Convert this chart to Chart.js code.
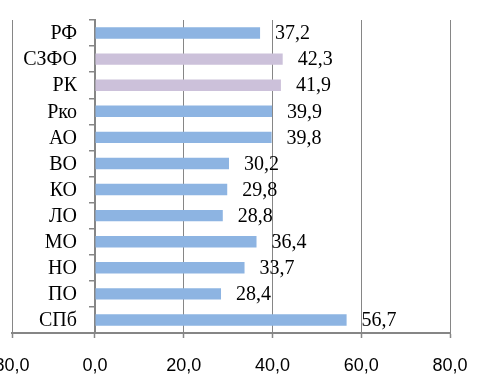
<!DOCTYPE html>
<html>
<head>
<meta charset="utf-8">
<script src="https://cdn.jsdelivr.net/npm/chart.js@4"></script>
<style>
  html, body { margin: 0; padding: 0; background: #fff; }
  canvas { display: block; }
</style>
</head>
<body>
<canvas id="chart" width="483" height="374"></canvas>
<script>
"use strict";

const categories = ['РФ', 'СЗФО', 'РК', 'Рко', 'АО', 'ВО', 'КО', 'ЛО', 'МО', 'НО', 'ПО', 'СПб'];
const values = [37.2, 42.3, 41.9, 39.9, 39.8, 30.2, 29.8, 28.8, 36.4, 33.7, 28.4, 56.7];
const highlighted = ['СЗФО', 'РК']; // district-level rows get the purple fill

// left edge belongs to the neighbouring panel, whose axis ends at 80,0
const xTicks = [-18.7, 0, 20, 40, 60, 80];
const xTickLabels = ['80,0', '0,0', '20,0', '40,0', '60,0', '80,0'];

const BLUE = '#8db4e2';
const PURPLE = '#ccc1da';
const GRID = '#868686';
const SERIF = '"Liberation Serif", "Times New Roman", serif';

const fmt = v => v.toFixed(1).replace('.', ',');

// category names beside the zero axis and value labels after each bar
const barLabels = {
    id: 'barLabels',
    afterDatasetsDraw(chart) {
        const { ctx, scales: { x, y } } = chart;
        const meta = chart.getDatasetMeta(0);
        const axisX = x.getPixelForValue(0);
        ctx.save();
        ctx.font = `20px ${SERIF}`;
        ctx.fillStyle = '#000';
        ctx.textBaseline = 'middle';

        ctx.textAlign = 'right';
        categories.forEach((name, i) => {
            ctx.fillText(name, axisX - 18, y.getPixelForValue(i) + 1);
        });

        ctx.textAlign = 'left';
        meta.data.forEach((bar, i) => {
            ctx.fillText(fmt(values[i]), bar.x + 15, bar.y + 1);
        });
        ctx.restore();
    }
};

new Chart(document.getElementById('chart'), {
    type: 'bar',
    data: {
        labels: categories,
        datasets: [{
            data: values,
            backgroundColor: categories.map(c => highlighted.includes(c) ? PURPLE : BLUE),
            borderWidth: 0,
            categoryPercentage: 1,
            barPercentage: 0.44
        }]
    },
    options: {
        indexAxis: 'y',
        responsive: false,
        animation: false,
        layout: { padding: { left: 12, right: 33, top: 20, bottom: 0 } },
        plugins: {
            legend: { display: false },
            tooltip: { enabled: false }
        },
        scales: {
            x: {
                min: xTicks[0],
                max: 80,
                afterBuildTicks: scale => {
                    scale.ticks = xTicks.map(v => ({ value: v }));
                },
                afterFit: scale => {
                    // let the outer labels run off the canvas edge
                    scale.paddingLeft = 0;
                    scale.paddingRight = 0;
                    scale.height = 41;
                },
                grid: {
                    color: ctx => ctx.tick && ctx.tick.value === 0 ? 'rgba(0,0,0,0)' : GRID,
                    lineWidth: 1,
                    tickLength: 5,
                    tickColor: GRID,
                    tickWidth: 1.5,
                    tickBorderDash: [],
                    borderDash: [2, 2]
                },
                border: { display: true, color: GRID, width: 2 },
                ticks: {
                    autoSkip: false,
                    maxRotation: 0,
                    padding: 17,
                    color: '#000',
                    font: { family: '"Liberation Sans", Arial, sans-serif', size: 18 },
                    callback: (v, i) => xTickLabels[i]
                }
            },
            y: {
                type: 'category',
                position: { x: 0 },
                grid: {
                    drawOnChartArea: false,
                    offset: true,
                    tickLength: 5,
                    color: GRID,
                    lineWidth: 1.5
                },
                border: { display: true, color: GRID, width: 2 },
                ticks: { display: false }
            }
        }
    },
    plugins: [barLabels]
});
</script>
</body>
</html>
